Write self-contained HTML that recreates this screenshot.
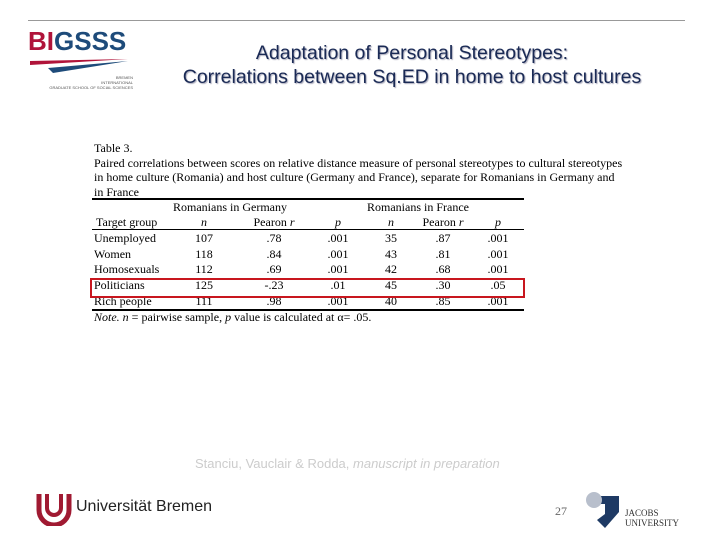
<!DOCTYPE html>
<html><head><meta charset="utf-8"><style>
body{margin:0;width:720px;height:540px;position:relative;background:#fff;overflow:hidden;font-family:"Liberation Serif",serif}
.a{position:absolute;white-space:nowrap}
.t{font-size:12px;color:#000;line-height:13px}
.c{transform:translateX(-50%)}
.ln{position:absolute;background:#000;left:92px;width:432px}
.title{font-family:"Liberation Sans",sans-serif;font-size:19.5px;color:#1a2a55;text-align:center;left:112px;width:600px;top:41px;line-height:24px;text-shadow:1px 1px 1px #aab}
</style></head><body>
<div class="a" style="left:28px;top:20px;width:657px;height:1px;background:#999"></div>
<div class="a" style="left:28px;top:27px;width:105px;height:60px">
 <div style="font-family:'Liberation Sans',sans-serif;font-weight:bold;font-size:26px;line-height:28px"><span style="color:#b0143a">BI</span><span style="color:#1e4b7a">GSSS</span></div>
 <svg width="105" height="20" style="position:absolute;top:32px;left:0"><polygon points="2,2 100,0 2,6" fill="#b0143a"/><polygon points="20,9 100,2 25,14" fill="#1e4b7a"/></svg>
 <div style="position:absolute;top:48px;right:0;font-family:'Liberation Sans',sans-serif;font-size:4px;color:#555;text-align:right;line-height:5px">BREMEN<br>INTERNATIONAL<br>GRADUATE SCHOOL OF SOCIAL SCIENCES</div>
</div>
<div class="a title">Adaptation of Personal Stereotypes:<br>Correlations between Sq.ED in home to host cultures</div>

<div class="a t" style="left:94px;top:141px;line-height:14.5px">Table 3.<br>Paired correlations between scores on relative distance measure of personal stereotypes to cultural stereotypes<br>in home culture (Romania) and host culture (Germany and France), separate for Romanians in Germany and<br>in France</div>
<div class="ln" style="top:198px;height:2px"></div>
<div class="a t c" style="left:230px;top:201px">Romanians in Germany</div>
<div class="a t c" style="left:418px;top:201px">Romanians in France</div>
<div class="a t" style="left:96px;top:216px">Target group</div>
<div class="a t c" style="left:204px;top:216px;font-style:italic">n</div>
<div class="a t c" style="left:274px;top:216px">Pearon <i>r</i></div>
<div class="a t c" style="left:338px;top:216px;font-style:italic">p</div>
<div class="a t c" style="left:391px;top:216px;font-style:italic">n</div>
<div class="a t c" style="left:443px;top:216px">Pearon <i>r</i></div>
<div class="a t c" style="left:498px;top:216px;font-style:italic">p</div>
<div class="ln" style="top:229px;height:1px"></div>
<div id="rows"></div>
<div class="ln" style="top:309px;height:2px"></div>
<div class="a t" style="left:94px;top:311px"><i>Note.</i> <i>n</i> = pairwise sample, <i>p</i> value is calculated at α= .05.</div>
<div class="a" style="left:90px;top:278px;width:431px;height:16px;border:2px solid #c8161e"></div>

<div class="a" style="left:195px;top:456px;font-family:'Liberation Sans',sans-serif;font-size:13px;color:#ccc">Stanciu, Vauclair &amp; Rodda, <i>manuscript in preparation</i></div>
<div class="a" style="left:36px;top:492px">
 <svg width="36" height="34"><path d="M3,2 v16 a15,15 0 0 0 30,0 v-16" fill="none" stroke="#a01a32" stroke-width="5"/><path d="M11,2 v14 a7,7 0 0 0 14,0 v-14" fill="none" stroke="#a01a32" stroke-width="4"/></svg>
 <span style="position:absolute;left:40px;top:6px;font-family:'Liberation Sans',sans-serif;font-size:16px;color:#222">Universität Bremen</span>
</div>
<div class="a" style="left:555px;top:504px;font-size:12px;color:#666">27</div>
<div class="a" style="left:583px;top:490px">
 <svg width="40" height="40"><path d="M12,6 h24 v16 l-14,16 l-8,-8 l8,-6 v-10 h-10z" fill="#1e3a64"/><circle cx="11" cy="10" r="8" fill="#b8bfcc"/></svg>
 <span style="position:absolute;left:42px;top:18px;font-size:9px;color:#333;line-height:10px">JACOBS<br>UNIVERSITY</span>
</div>
<script>
const groups=["Unemployed","Women","Homosexuals","Politicians","Rich people"];
const nDE=["107","118","112","125","111"];
const rDE=[".78",".84",".69","-.23",".98"];
const pDE=[".001",".001",".001",".01",".001"];
const nFR=["35","43","42","45","40"];
const rFR=[".87",".81",".68",".30",".85"];
const pFR=[".001",".001",".001",".05",".001"];
const cols=[[nDE,204],[rDE,274],[pDE,338],[nFR,391],[rFR,443],[pFR,498]];
const host=document.getElementById('rows');
groups.forEach((g,i)=>{
 const y=232+i*15.7;
 const d=document.createElement('div');d.className='a t';d.style.left='94px';d.style.top=y+'px';d.textContent=g;
 
 
 host.appendChild(d);
 cols.forEach(([arr,x])=>{
  const c=document.createElement('div');c.className='a t c';c.style.left=x+'px';c.style.top=y+'px';c.textContent=arr[i];
  
  
  host.appendChild(c);
 });
});
</script>
</body></html>
